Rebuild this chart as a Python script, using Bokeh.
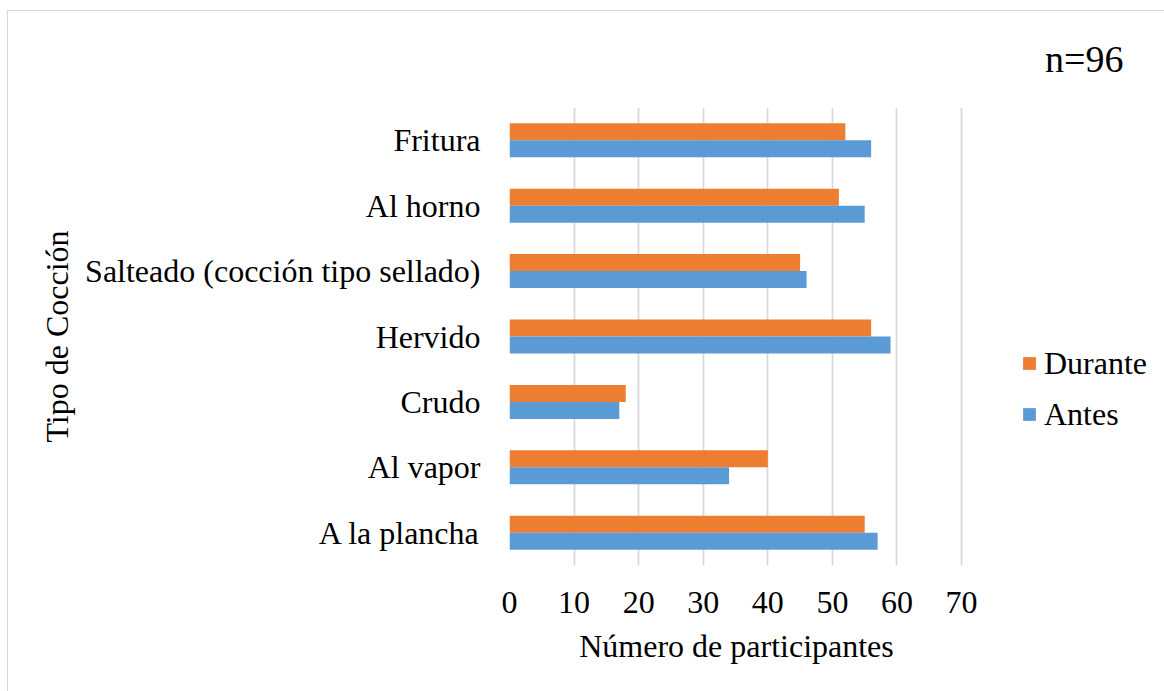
from bokeh.plotting import figure
from bokeh.models import (ColumnDataSource, FactorRange, Range1d, FixedTicker, Legend,
                          LegendItem)
from bokeh.transform import dodge
from bokeh.embed import file_html
from bokeh.resources import INLINE

# ---- data ----
categories = ["A la plancha", "Al vapor", "Crudo", "Hervido",
              "Salteado (cocción tipo sellado)", "Al horno", "Fritura"]
antes = [57, 34, 17, 59, 46, 55, 56]
durante = [55, 40, 18, 56, 45, 51, 52]
x_ticks = [0, 10, 20, 30, 40, 50, 60, 70]
series_names = ["Durante", "Antes"]
note_text = "n=96"
x_title = "Número de participantes"
y_title = "Tipo de Cocción"

FONT = "Liberation Serif"
ORANGE = "#ED7D31"
BLUE = "#5B9BD5"
GRID = "#d9d9d9"

src = ColumnDataSource(dict(cat=categories, antes=antes, durante=durante))

p = figure(frame_width=454, frame_height=458, output_backend="svg", toolbar_location=None,
           y_range=FactorRange(factors=categories), x_range=Range1d(0, 70.3),
           min_border_left=509, min_border_right=201,
           min_border_top=107, min_border_bottom=126)
p.outline_line_color = None
p.background_fill_color = "white"
p.border_fill_color = None
p.styles = {
    "background": ("linear-gradient(#d9d9d9,#d9d9d9) 7px 10px / 1px 100% no-repeat, "
                   "linear-gradient(#d9d9d9,#d9d9d9) 7px 10px / 100% 1px no-repeat, white"),
}

r_dur = p.hbar(y=dodge("cat", 0.13, range=p.y_range), right="durante", left=0,
               height=0.26, source=src, fill_color=ORANGE, line_color=None)
r_ant = p.hbar(y=dodge("cat", -0.13, range=p.y_range), right="antes", left=0,
               height=0.26, source=src, fill_color=BLUE, line_color=None)

# grid
p.ygrid.grid_line_color = None
p.xgrid.grid_line_color = GRID
p.xgrid.grid_line_width = 1.75
p.xaxis.ticker = FixedTicker(ticks=x_ticks)

# axes
for ax in (p.xaxis[0], p.yaxis[0]):
    ax.axis_line_color = None
    ax.major_tick_line_color = None
    ax.minor_tick_line_color = None
    ax.major_tick_out = 0
    ax.major_tick_in = 0
    ax.major_label_text_font = FONT
    ax.major_label_text_font_size = "32px"
    ax.major_label_text_color = "black"
    ax.axis_label_text_font = FONT
    ax.axis_label_text_font_size = "32px"
    ax.axis_label_text_font_style = "normal"
    ax.axis_label_text_color = "black"

p.xaxis.axis_label = x_title
p.yaxis.axis_label = y_title
p.xaxis.major_label_standoff = 26
p.xaxis.axis_label_standoff = 12
p.yaxis.major_label_standoff = 29
p.yaxis.axis_label_standoff = 7

legend = Legend(items=[LegendItem(label=series_names[0], renderers=[r_dur]),
                       LegendItem(label=series_names[1], renderers=[r_ant])],
                location=(58, 127), orientation="vertical",
                glyph_width=16, glyph_height=16, label_height=48, spacing=3,
                label_standoff=7, padding=0, margin=0,
                border_line_color=None, background_fill_alpha=0,
                label_text_font=FONT, label_text_font_size="32px",
                label_text_color="black")
p.add_layout(legend, "right")

p.title.text = note_text
p.title.align = "right"
p.title.offset = -160
p.title.standoff = 56
p.title.text_font = FONT
p.title.text_font_size = "38px"
p.title.text_font_style = "normal"
p.title.text_color = "black"

open("out.html", "w").write(file_html(p, INLINE))
